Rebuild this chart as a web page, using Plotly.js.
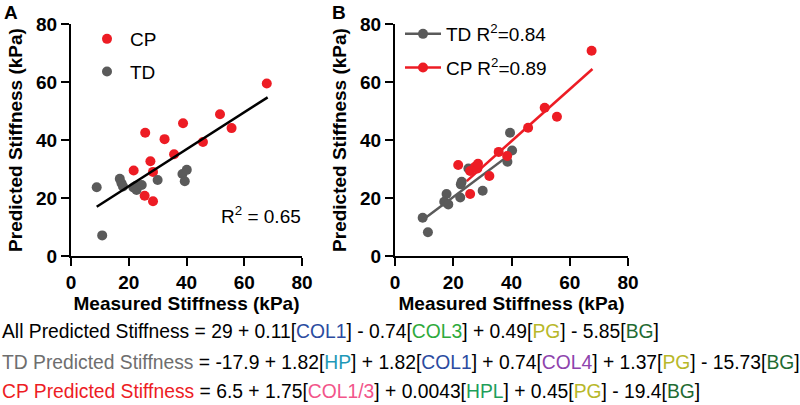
<!DOCTYPE html>
<html>
<head>
<meta charset="utf-8">
<script src="https://cdn.plot.ly/plotly-3.0.1.min.js"></script>
<style>html,body{margin:0;padding:0;background:#fff;}#chart{width:800px;height:405px;}</style>
</head>
<body>
<div id="chart"></div>
<script>
// Panel A: all-sample model
var cpMeasuredA = [21.7, 25.7, 25.5, 27.5, 28.4, 28.4, 32.4, 35.7, 38.8, 45.7, 51.6, 55.6, 67.8];
var cpPredictedA = [29.5, 42.5, 20.8, 32.7, 29.0, 18.9, 40.3, 35.1, 45.8, 39.3, 48.9, 44.1, 59.5];
var tdMeasuredA = [8.9, 10.8, 16.9, 17.5, 18.0, 21.6, 22.5, 22.7, 24.5, 30.0, 38.6, 40.1, 39.4];
var tdPredictedA = [23.7, 7.1, 26.6, 25.1, 24.0, 23.6, 24.2, 22.8, 24.5, 26.2, 28.3, 29.7, 25.8];
var fitMeasuredA = [8.9, 68.1];
var fitPredictedA = [17.0, 54.7];

// Panel B: group-specific models
var tdMeasuredB = [9.5, 11.3, 17.7, 16.9, 18.3, 22.4, 22.6, 22.9, 25.2, 30.1, 38.6, 39.5, 40.2];
var tdPredictedB = [13.2, 8.2, 21.4, 18.7, 17.8, 20.2, 24.7, 25.6, 30.2, 22.5, 32.5, 42.5, 36.4];
var cpMeasuredB = [21.7, 25.8, 25.8, 27.5, 28.3, 28.5, 32.4, 35.6, 38.5, 45.7, 51.4, 55.6, 67.5];
var cpPredictedB = [31.4, 29.3, 21.4, 30.8, 30.2, 31.8, 27.6, 35.9, 34.5, 44.2, 51.1, 48.0, 70.8];
var tdFitMeasuredB = [9.7, 40.0];
var tdFitPredictedB = [12.6, 35.4];
var cpFitMeasuredB = [24.6, 67.8];
var cpFitPredictedB = [25.8, 64.5];

var axisTicks = [0, 20, 40, 60, 80];
var axisTickText = ['0', '20', '40', '60', '80'];

var RED = '#ED1C24', GRAY = '#5A5A5A';
var FONT = 'Liberation Sans, Arial, Helvetica, sans-serif';
var MS = 10;

var traces = [
  {x: cpMeasuredA, y: cpPredictedA, xaxis: 'x', yaxis: 'y', mode: 'markers', name: 'CP',
   marker: {color: RED, size: MS}, legend: 'legend', legendgroup: 'a1', cliponaxis: false},
  {x: tdMeasuredA, y: tdPredictedA, xaxis: 'x', yaxis: 'y', mode: 'markers', name: 'TD',
   marker: {color: GRAY, size: MS}, legend: 'legend', legendgroup: 'a2', cliponaxis: false},
  {x: fitMeasuredA, y: fitPredictedA, xaxis: 'x', yaxis: 'y', mode: 'lines', showlegend: false,
   line: {color: '#000', width: 2.5}},
  // panel B
  {x: tdFitMeasuredB, y: tdFitPredictedB, xaxis: 'x2', yaxis: 'y2', mode: 'lines', showlegend: false,
   line: {color: GRAY, width: 2.5}},
  {x: cpFitMeasuredB, y: cpFitPredictedB, xaxis: 'x2', yaxis: 'y2', mode: 'lines', showlegend: false,
   line: {color: RED, width: 2.5}},
  {x: tdMeasuredB, y: tdPredictedB, xaxis: 'x2', yaxis: 'y2', mode: 'markers', showlegend: false,
   marker: {color: GRAY, size: MS}, cliponaxis: false},
  {x: cpMeasuredB, y: cpPredictedB, xaxis: 'x2', yaxis: 'y2', mode: 'markers', showlegend: false,
   marker: {color: RED, size: MS}, cliponaxis: false},
  // legend entries for panel B (line + marker symbol)
  {x: [null], y: [null], xaxis: 'x2', yaxis: 'y2', mode: 'lines+markers', name: 'TD R<sup>2</sup>=0.84',
   line: {color: GRAY, width: 2.5}, marker: {color: GRAY, size: MS}, legend: 'legend2', legendgroup: 'b1'},
  {x: [null], y: [null], xaxis: 'x2', yaxis: 'y2', mode: 'lines+markers', name: 'CP R<sup>2</sup>=0.89',
   line: {color: RED, width: 2.5}, marker: {color: RED, size: MS}, legend: 'legend2', legendgroup: 'b2'}
];

function axis(domain, anchor, title) {
  var a = {
    range: [0, 80], tickvals: axisTicks, ticktext: axisTickText,
    showline: true, linecolor: '#000', linewidth: 2,
    ticks: 'outside', ticklen: 8, tickwidth: 2, tickcolor: '#000',
    showgrid: false, zeroline: false, fixedrange: true, automargin: false,
    tickfont: {family: FONT, size: 19, color: '#000', weight: 'bold'},
    title: {text: '<b>' + title + '</b>', font: {family: FONT, size: 19, color: '#000'}},
    anchor: anchor
  };
  if (domain) a.domain = domain;
  return a;
}

var xa = axis([71/800, 302/800], 'y', 'Measured Stiffness (kPa)');
xa.title.standoff = 5;
var ya = axis(null, 'x', 'Predicted Stiffness (kPa)');
ya.domain = [0, 1];
var xb = axis([395/800, 628/800], 'y2', 'Measured Stiffness (kPa)');
xb.title.standoff = 5;
var yb = axis(null, 'x2', 'Predicted Stiffness (kPa)');
yb.domain = [0, 1];

var EQ = 19.3;
function eqLine(y, html) {
  return {xref: 'paper', yref: 'paper', x: 0, y: y, xanchor: 'left', yanchor: 'middle',
          showarrow: false, text: html, font: {family: FONT, size: EQ, color: '#000'}};
}
function c(col, t) { return '<span style="color:' + col + '">' + t + '</span>'; }
var BLUE = '#2B4BA0', GREEN = '#2EAA3C', PGC = '#B8B82A', BGC = '#1F6B33',
    HPC = '#1E98B8', PURP = '#8E44AD', PINK = '#F2558A', HPLC = '#1E9E5A';

var layout = {
  width: 800, height: 405,
  margin: {l: 0, r: 0, t: 24, b: 149},
  paper_bgcolor: '#fff', plot_bgcolor: '#fff',
  font: {family: FONT, size: 19, color: '#000'},
  xaxis: xa, yaxis: ya, xaxis2: xb, yaxis2: yb,
  legend: {x: 84/800, y: 1 + 4/232, xanchor: 'left', yanchor: 'top', bgcolor: 'rgba(0,0,0,0)',
           font: {family: FONT, size: 19, color: '#000'}, traceorder: 'grouped', tracegroupgap: 5,
           itemwidth: 36},
  legend2: {x: 400/800, y: 1 + 9/232, xanchor: 'left', yanchor: 'top', bgcolor: 'rgba(0,0,0,0)',
           font: {family: FONT, size: 19, color: '#000'}, traceorder: 'grouped', tracegroupgap: 6,
           itemwidth: 36},
  annotations: [
    {xref: 'paper', yref: 'paper', x: 0.002, y: 256/232, xanchor: 'left', yanchor: 'top', showarrow: false,
     text: '<b>A</b>', font: {family: FONT, size: 19, color: '#000'}},
    {xref: 'paper', yref: 'paper', x: 330/800, y: 256/232, xanchor: 'left', yanchor: 'top', showarrow: false,
     text: '<b>B</b>', font: {family: FONT, size: 19, color: '#000'}},
    {xref: 'x', yref: 'y', x: 51.3, y: 14.2, xanchor: 'left', yanchor: 'middle', showarrow: false,
     text: 'R<sup>2</sup> = 0.65', font: {family: FONT, size: 19, color: '#000'}},
    eqLine((256 - 331) / 232, 'All Predicted Stiffness = 29 + 0.11[' + c(BLUE, 'COL1') + '] - 0.74[' + c(GREEN, 'COL3') +
      '] + 0.49[' + c(PGC, 'PG') + '] - 5.85[' + c(BGC, 'BG') + ']'),
    eqLine((256 - 362) / 232, c('#6E6E6E', 'TD Predicted Stiffness') + ' = -17.9 + 1.82[' + c(HPC, 'HP') + '] + 1.82[' +
      c(BLUE, 'COL1') + '] + 0.74[' + c(PURP, 'COL4') + '] + 1.37[' + c(PGC, 'PG') + '] - 15.73[' + c(BGC, 'BG') + ']'),
    eqLine((256 - 391) / 232, c(RED, 'CP Predicted Stiffness') + ' = 6.5 + 1.75[' + c(PINK, 'COL1/3') + '] + 0.0043[' +
      c(HPLC, 'HPL') + '] + 0.45[' + c(PGC, 'PG') + '] - 19.4[' + c(BGC, 'BG') + ']')
  ]
};

Plotly.newPlot('chart', traces, layout, {displayModeBar: false, staticPlot: true});
</script>
</body>
</html>
